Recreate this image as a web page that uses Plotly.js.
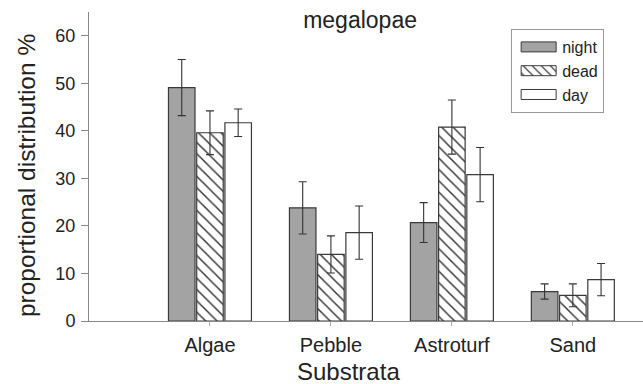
<!DOCTYPE html>
<html><head><meta charset="utf-8">
<script src="https://cdn.plot.ly/plotly-3.0.1.min.js"></script>
<style>html,body{margin:0;padding:0;background:#fff}#chart{width:643px;height:384px}</style>
</head><body><div id="chart"></div>
<script>
const categories = ["Algae", "Pebble", "Astroturf", "Sand"];
const seriesNames = ["night", "dead", "day"];
const night = [49.1, 23.8, 20.7, 6.2];
const nightErr = [5.9, 5.5, 4.2, 1.6];
const dead = [39.6, 14.0, 40.8, 5.4];
const deadErr = [4.6, 3.9, 5.7, 2.4];
const day = [41.7, 18.6, 30.8, 8.7];
const dayErr = [2.9, 5.6, 5.7, 3.4];
const yTicks = [0, 10, 20, 30, 40, 50, 60];

const lineCol = "#3a3a3a";
function mk(name, y, err, fill, pattern) {
  const m = {color: fill, line: {color: lineCol, width: 1.2}};
  if (pattern) m.pattern = pattern;
  return {
    type: "bar", name: name, x: categories, y: y,
    marker: m,
    error_y: {type: "data", array: err, visible: true, color: "#333", thickness: 1.1, width: 4}
  };
}
const data = [
  mk(seriesNames[0], night, nightErr, "#a3a3a3"),
  mk(seriesNames[1], dead, deadErr, "#ffffff", {shape: "\\", fgcolor: "#333", bgcolor: "#fff", size: 8, solidity: 0.18}),
  mk(seriesNames[2], day, dayErr, "#ffffff")
];
const font = "Liberation Sans, Arial, sans-serif";
const txt = "#222";
const layout = {
  width: 643, height: 384,
  margin: {l: 89, r: 0, t: 12, b: 63},
  paper_bgcolor: "#fff", plot_bgcolor: "#fff",
  font: {family: font, color: txt, size: 16},
  title: {text: "megalopae", x: 0.56, xanchor: "center", y: 0.948, yanchor: "middle", font: {size: 23, family: font, color: txt}},
  barmode: "group", bargap: 0.3, bargroupgap: 0.06,
  xaxis: {
    type: "category", range: [-1, 3.58],
    showline: true, linecolor: "#888", linewidth: 1,
    ticks: "outside", ticklen: 4, tickcolor: "#aaa",
    showgrid: false, zeroline: false,
    tickfont: {size: 20, color: txt}, ticklabelstandoff: 2
  },
  yaxis: {
    range: [0, 65], tickvals: yTicks,
    showline: true, linecolor: "#888", linewidth: 1,
    ticks: "outside", ticklen: 7, tickcolor: "#888",
    showgrid: false, zeroline: false,
    tickfont: {size: 18, color: txt}, ticklabelstandoff: 2
  },
  annotations: [
    {text: "Substrata", xref: "paper", yref: "paper", x: (348 - 89) / 554, y: -0.165, xanchor: "center", yanchor: "middle",
     showarrow: false, font: {size: 24, color: txt, family: font}},
    {text: "proportional distribution %", xref: "paper", yref: "paper", x: -0.1137, y: 0.469, xanchor: "center", yanchor: "middle",
     textangle: -90, showarrow: false, font: {size: 24.5, color: txt, family: font}}
  ],
  legend: {
    x: 0.762, y: 0.945, xanchor: "left", yanchor: "top",
    bordercolor: "#999", borderwidth: 1, bgcolor: "#fff",
    font: {size: 16, color: txt}, tracegroupgap: 0, itemwidth: 40,
    entrywidth: 98, entrywidthmode: "pixels"
  },
  showlegend: true
};
Plotly.newPlot("chart", data, layout, {staticPlot: true}).then(function(){
  document.querySelectorAll(".legendpoints path").forEach(function(p){
    p.setAttribute("d", "M-16,-5H19V5H-16Z");
    p.style.strokeWidth = "1px";
  });
});
</script>
</body></html>
